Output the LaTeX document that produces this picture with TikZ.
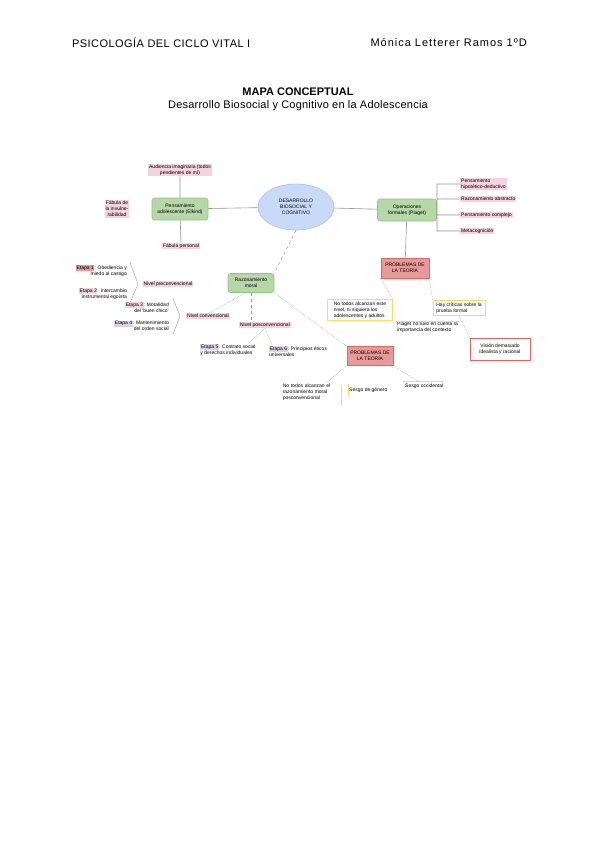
\documentclass[tikz,border=0pt]{standalone}
\usepackage{fontspec}
\setmainfont{Liberation Sans}
\usetikzlibrary{positioning, shapes.geometric}
\definecolor{azulclaro}{RGB}{201,218,248}
\definecolor{azulborde}{RGB}{164,194,244}
\definecolor{verdeclaro}{RGB}{182,215,168}
\definecolor{verdeborde}{RGB}{147,196,125}
\definecolor{rosaclaro}{RGB}{244,210,222}
\definecolor{rojoclaro}{RGB}{234,153,153}
\definecolor{rojoborde}{RGB}{224,102,102}
\definecolor{amarillo}{RGB}{255,217,102}
\definecolor{lila}{RGB}{217,210,233}
\definecolor{gris}{RGB}{150,150,150}
\newcommand{\mapa}{\fontsize{5}{6}\selectfont}
\newcommand{\cabecera}{\fontsize{11}{13}\selectfont}
\newcommand{\resalta}[2]{{\setlength{\fboxsep}{0.6pt}\colorbox{#1}{#2}}}

\begin{document}
\begin{tikzpicture}[x=1pt, y=-1pt,
            every node/.style={font=\mapa, inner sep=1pt},
            elipse/.style={ellipse, draw=azulborde, fill=azulclaro, line width=0.6pt,
              minimum width=76, minimum height=46, align=center},
            concepto/.style={draw=verdeborde, fill=verdeclaro, rounded corners=2.5pt,
              line width=0.6pt, align=center},
            problema/.style={draw=rojoborde, fill=rojoclaro, line width=0.6pt,
              minimum width=48, minimum height=20, align=center},
            etiqueta/.style={fill=rosaclaro, align=center},
            caja/.style={draw=amarillo, fill=white, line width=0.6pt, align=left, inner sep=2pt},
            etapa/.style={align=right},
            linea/.style={draw=gris, line width=0.6pt},
            llaveta/.style={draw=gris, line width=0.4pt, rounded corners=1.5pt},
            punteado/.style={draw=gris, line width=0.5pt, densely dotted},
            discontinua/.style={draw=gris, line width=0.5pt, dashed}]
          \useasboundingbox (0,0) rectangle (600,848);
          \fill[white] (0,0) rectangle (600,848);
          % Cabecera
          \node[font=\cabecera\addfontfeature{LetterSpace=4}, anchor=west] (asig) at (71,43) {PSICOLOGÍA DEL CICLO VITAL I};
          \node[font=\cabecera\addfontfeature{LetterSpace=9}, anchor=east] (autora) at (528,43) {Mónica Letterer Ramos 1ºD};
          \node[font=\cabecera\bfseries] (titulo) at (298,92) {MAPA CONCEPTUAL};
          \node[font=\cabecera\addfontfeature{LetterSpace=2}] (subtitulo) at (298,106) {Desarrollo Biosocial y Cognitivo en la Adolescencia};
          % Centro
          \node[elipse] (central) at (296,207) {DESARROLLO\\BIOSOCIAL Y\\COGNITIVO};
          % Elkind
          \node[concepto, minimum width=56, minimum height=22] (elkind) at (180,209) {Pensamiento\\adolescente (Elkind)};
          \node[etiqueta] (audiencia) at (180,170) {Audiencia imaginaria (todos\\pendientes de mí)};
          \node[etiqueta] (invencible) at (117,209) {Fábula de\\la invulne-\\rabilidad};
          \node[etiqueta] (personal) at (181,246) {Fábula personal};
          \path[linea] (elkind) -- (central)
                (audiencia) -- (elkind)
                (elkind) -- (personal);
          % Piaget
          \node[concepto, minimum width=59, minimum height=22] (piaget) at (407,210) {Operaciones\\formales (Piaget)};
          \node[etiqueta, anchor=west, align=left] (hipotetico) at (460,184) {Pensamiento\\hipotético-deductivo};
          \node[etiqueta, anchor=west] (abstracto) at (460,199) {Razonamiento abstracto};
          \node[etiqueta, anchor=west] (complejo) at (460,215) {Pensamiento complejo};
          \node[etiqueta, anchor=west] (meta) at (460,231) {Metacognición};
          \coordinate (llave) at (437,207);
          \path[linea] (central) -- (piaget)
                (hipotetico.west) -| (llave) |- (meta.west)
                (abstracto.west) -- (abstracto.west -| llave)
                (complejo.west) -- (complejo.west -| llave);
          \node[problema] (problemas1) at (405,268) {PROBLEMAS DE\\LA TEORÍA};
          \node[caja, minimum width=65] (alcanzan) at (360,310) {No todos alcanzan este\\nivel, ni siquiera los\\adolescentes y adultos};
          \node[caja, minimum width=52] (criticas) at (459,308) {Hay críticas sobre la\\prueba formal};
          \node[anchor=north west, align=left] (contexto) at (396,321) {Piaget no tuvo en cuenta la\\importancia del contexto};
          \node[caja, draw=rojoborde, align=center, minimum width=60, minimum height=22] (vision) at (500,349) {Visión demasiado\\idealista y racional};
          \draw[amarillo, line width=0.6pt] (contexto.north west) -- (contexto.north east);
          \path[linea] (piaget) -- (problemas1);
          \path[punteado] (problemas1.south west) -- (alcanzan.north east)
                (problemas1.south east) -- (criticas.north west)
                (criticas.south) -- (vision.north west);
          % Kohlberg
          \node[concepto, minimum width=46, minimum height=19] (moral) at (251,283) {Razonamiento\\moral};
          \path[discontinua] (central.south) -- (moral.north east);
          % Nivel preconvencional
          \node[etiqueta] (preconv) at (168,284) {Nivel preconvencional};
          \node[etapa, anchor=east] (etapa1) at (128,271) {\resalta{rojoclaro}{Etapa 1}: Obediencia y\\miedo al castigo};
          \node[etapa, anchor=east] (etapa2) at (128,294) {\resalta{rosaclaro}{Etapa 2}: Intercambio\\instrumental egoísta};
          \coordinate (pico1) at (138,284);
          \path[llaveta] ([xshift=2,yshift=2]etapa1.north east) -- (pico1) -- ([xshift=2,yshift=-2]etapa2.south east);
          % Nivel convencional
          \node[etiqueta] (conv) at (208,316) {Nivel convencional};
          \node[etapa, anchor=east] (etapa3) at (170,307) {\resalta{rosaclaro}{Etapa 3}: Moralidad\\del `buen chico'};
          \node[etapa, anchor=east] (etapa4) at (170,326) {\resalta{lila}{Etapa 4}: Mantenimiento\\del orden social};
          \coordinate (pico2) at (180,316);
          \path[llaveta] ([xshift=3,yshift=2]etapa3.north east) -- (pico2) -- ([xshift=3,yshift=-2]etapa4.south east);
          \path[punteado] (conv.60) -- (moral.240);
          % Nivel posconvencional
          \node[etiqueta] (posconv) at (265,325) {Nivel posconvencional};
          \node[etapa, align=left] (etapa5) at (228,350) {\resalta{lila}{Etapa 5}: Contrato social\\y derechos individuales};
          \node[etapa, align=left, anchor=west] (etapa6) at (268,351) {\resalta{lila}{Etapa 6}: Principios éticos\\universales};
          \path[discontinua] (moral.south) -- (moral.south |- posconv.north);
          \path[punteado] (posconv.south) -- ([xshift=-8]etapa5.north east)
                (posconv.south) -- ([xshift=4]etapa6.north west);
          % Problemas de Kohlberg
          \node[problema, minimum width=46, minimum height=19] (problemas2) at (370,356) {PROBLEMAS DE\\LA TEORÍA};
          \node[anchor=north east, align=left, text width=56] (noalcanzan) at (340,383) {No todos alcanzan el\\razonamiento moral\\posconvencional};
          \node[anchor=west] (genero) at (348,390) {Sesgo de género};
          \node[anchor=west] (occidental) at (404,386) {Sesgo occidental};
          \draw[amarillo, line width=0.7pt] ([xshift=1,yshift=-2]noalcanzan.north east) -- ([xshift=1,yshift=-4]noalcanzan.south east);
          \draw[amarillo, line width=0.7pt] ([yshift=2]genero.north west) -- ([yshift=-2]genero.south west);
          \draw[amarillo, line width=0.7pt] ([xshift=-1,yshift=1]occidental.north west) -- ([yshift=1]occidental.north east);
          \path[punteado] (moral.south east) -- (problemas2.north west)
                (problemas2.south west) -- ([xshift=-14]noalcanzan.north east)
                (problemas2.south east) -- ([xshift=16]occidental.north west);
        \end{tikzpicture}
\end{document}
